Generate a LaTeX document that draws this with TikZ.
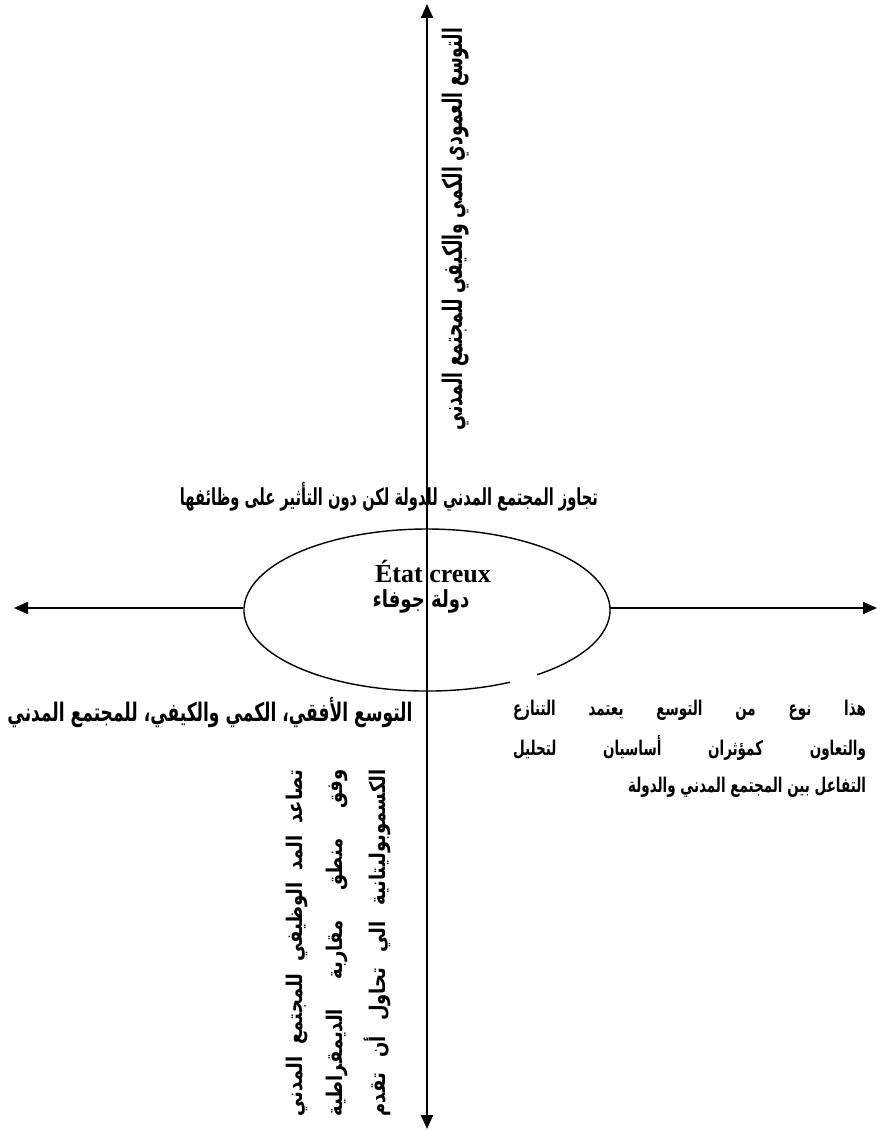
\documentclass[tikz,border=0pt]{standalone}
\usepackage{fontspec}
\usepackage{graphicx}
\usetikzlibrary{arrows.meta}
\TeXXeTstate=1
\setmainfont{Liberation Serif}
\newfontfamily\arb[Script=Arabic]{DejaVu Sans}
\newcommand\artxt[1]{{\arb\bfseries\beginR #1\endR}}
\newcommand\fitwh[3]{\resizebox*{#1}{#2}{\artxt{#3}}}
\newcommand\fitws[3]{\scalebox{1}[#2]{\resizebox{#1}{!}{\artxt{#3}}}}
\newcommand\justline[2]{\hbox to #1{\arb\bfseries\beginR #2\endR}}
\begin{document}
\begin{tikzpicture}[x=1pt,y=-1pt,
  axisline/.style={line width=2.2pt,{Triangle[length=14pt,width=12pt]}-{Triangle[length=14pt,width=12pt]}},
  haxis/.style={line width=2.2pt,-{Triangle[length=14pt,width=12pt]}},
  ellline/.style={line width=1.4pt},
  txt/.style={inner sep=0pt,outer sep=0pt}]
\useasboundingbox (0,0) rectangle (878,1131);
\coordinate (top) at (427,4);
\coordinate (bot) at (427,1129);
\coordinate (el) at (243,608);
\coordinate (er) at (610,608);
\coordinate (ltip) at (14,608);
\coordinate (rtip) at (877,608);
\coordinate (gap) at (510.1,682.2);
% ellipse with a small gap at bottom right
\draw[ellline] (gap) arc[start angle=63,end angle=413,x radius=183,y radius=81];
% axes
\draw[axisline] (bot) -- (top);
\draw[haxis] (el) -- (ltip);
\draw[haxis] (er) -- (rtip);
% texts
\node[txt,rotate=90] (vt) at (456,229) {\fitwh{402pt}{27pt}{\beginR التوسع العمودي الكمي والكيفي للمجتمع المدني\endR}};
\node[txt] (mid) at (389,497) {\fitws{418pt}{1.6}{\beginR تجاوز المجتمع المدني للدولة لكن دون التأثير على وظائفها\endR}};
\node[txt] (fr) at (433,572) {\fontsize{26}{30}\selectfont\bfseries État creux};
\node[txt] (arl) at (421,601) {\fitws{97pt}{1.3}{\beginR دولة جوفاء\endR}};
\node[txt] (bl) at (210,713) {\fitws{405pt}{1.5}{\beginR التوسع الأفقي، الكمي والكيفي، للمجتمع المدني\endR}};
\node[txt,anchor=east] (r1) at (866,710) {\scalebox{1}[1.5]{\fontsize{13.5}{16}\selectfont\justline{353pt}{هذا\hfill نوع\hfill من\hfill التوسع\hfill يعتمد\hfill التنازع}}};
\node[txt,anchor=east] (r2) at (866,748) {\scalebox{1}[1.5]{\fontsize{13.5}{16}\selectfont\justline{353pt}{والتعاون\hfill كمؤثران\hfill أساسيان\hfill لتحليل}}};
\node[txt,anchor=east] (r3) at (866,787) {\scalebox{1}[1.5]{\fontsize{13.5}{16}\selectfont\artxt{\beginR التفاعل بين المجتمع المدني والدولة\endR}}};
\node[txt,rotate=90] (c1) at (297,943) {\scalebox{1}[1.2]{\fontsize{18}{22}\selectfont\justline{347pt}{تصاعد\hfill المد\hfill الوظيفي\hfill للمجتمع\hfill المدني}}};
\node[txt,rotate=90] (c2) at (337,943) {\scalebox{1}[1.2]{\fontsize{18}{22}\selectfont\justline{347pt}{وفق\hfill منطق\hfill مقاربة\hfill الديمقراطية}}};
\node[txt,rotate=90] (c3) at (377,943) {\scalebox{1}[1.2]{\fontsize{18}{22}\selectfont\justline{347pt}{الكسموبوليتانية\hfill الي\hfill تحاول\hfill أن\hfill تقدم}}};
\end{tikzpicture}
\end{document}
